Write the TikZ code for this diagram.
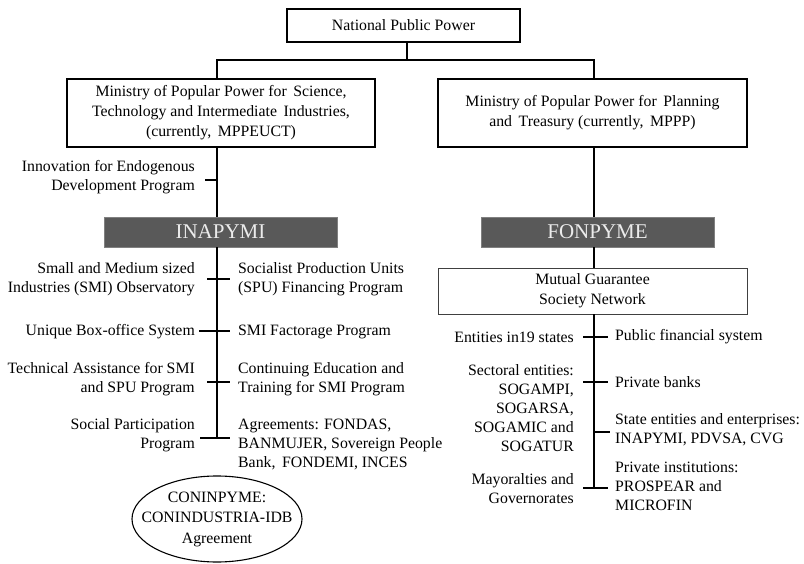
\documentclass[tikz,border=0pt]{standalone}
\usepackage{fontspec}
\setmainfont{Liberation Serif}
\usetikzlibrary{shapes.geometric}
\begin{document}
\begin{tikzpicture}[x=1pt,y=-1pt,
  txt/.style={font=\fontsize{15.8}{19}\selectfont, inner sep=0pt},
  box/.style={draw, line width=1.3pt, font=\fontsize{15.8}{20}\selectfont, align=center, inner sep=0pt},
  darkbox/.style={fill=black!65, draw=black!50, line width=0.6pt, text=white!92!black, font=\fontsize{21}{24}\selectfont, inner sep=0pt},
  ln/.style={line width=1.3pt}]
\useasboundingbox (0,0) rectangle (804,564);
\fill[white] (0,0) rectangle (804,564);

% boxes
\node[box, minimum width=233pt, minimum height=33pt] (top) at (403.5,25.5) {National Public Power};
\node[box, minimum width=308pt, minimum height=68pt] (minL) at (221,113) {Ministry of Popular Power for\, Science,\\Technology and Intermediate\, Industries,\\(currently,\, MPPEUCT)};
\node[box, minimum width=309pt, minimum height=68pt] (minR) at (592.5,113) {Ministry of Popular Power for\, Planning\\and\, Treasury (currently,\, MPPP)};
\node[darkbox, minimum width=233pt, minimum height=30pt] (inap) at (220.5,232) {INAPYMI};
\node[darkbox, minimum width=233pt, minimum height=30pt] (fonp) at (597.5,232) {FONPYME};
\node[box, draw=black!75, line width=0.8pt, minimum width=309pt, minimum height=46pt] (mut) at (592.5,291) {Mutual Guarantee\\Society Network};
\node[ellipse, draw, line width=1.1pt, minimum width=170pt, minimum height=86pt, inner sep=0pt] (con) at (217,519) {};
\node[txt, align=center, font=\fontsize{15.8}{20.5}\selectfont] (contxt) at (con.center) {CONINPYME:\\CONINDUSTRIA-IDB\\Agreement};

% spine coordinates
\coordinate (lsp) at (217,0);
\coordinate (rsp) at (594,0);
\coordinate (hy) at (0,60);
\coordinate (tx) at (407,0);

% top connectors
\draw[ln] (tx |- top.south) -- (tx |- hy);
\draw[ln] (lsp |- minL.north) -- (lsp |- hy) -- (rsp |- hy) -- (rsp |- minR.north);

% left spine
\coordinate (lt0) at (205,180);
\coordinate (la1) at (207,279);
\coordinate (lb1) at (230,279);
\coordinate (la2) at (199,331);
\coordinate (lb2) at (230,331);
\coordinate (la3) at (207,382);
\coordinate (lb3) at (230,382);
\coordinate (la4) at (200,438);
\coordinate (lb4) at (230,438);
\draw[ln] (lsp |- minL.south) -- (lsp |- inap.north);
\draw[ln] (lsp |- inap.south) -- (lsp |- la4);
\draw[ln] (lt0) -- (lsp |- lt0);
\draw[ln] (la1) -- (lb1);
\draw[ln] (la2) -- (lb2);
\draw[ln] (la3) -- (lb3);
\draw[ln] (la4) -- (lb4);

% left texts
\node[txt, anchor=east, align=right] (l0) at (195,177.5) {Innovation for Endogenous\\Development Program};
\node[txt, anchor=east, align=right] (l1) at (195,279.5) {Small and Medium sized\\Industries (SMI) Observatory};
\node[txt, anchor=east, align=right] (l2) at (195,332) {Unique Box-office System};
\node[txt, anchor=east, align=right] (l3) at (195,379) {Technical Assistance for SMI\\and SPU Program};
\node[txt, anchor=east, align=right] (l4) at (195,435) {Social Participation\\Program};
\node[txt, anchor=west, align=left] (r1) at (238,279.5) {Socialist Production Units\\(SPU) Financing Program};
\node[txt, anchor=west, align=left] (r2) at (238,332) {SMI Factorage Program};
\node[txt, anchor=west, align=left] (r3) at (238,379) {Continuing Education and\\Training for SMI Program};
\node[txt, anchor=west, align=left] (r4) at (238,444) {Agreements: FONDAS,\\BANMUJER, Sovereign People\\Bank,\, FONDEMI, INCES};

% right spine
\coordinate (ra1) at (583,337);
\coordinate (rb1) at (608,337);
\coordinate (ra2) at (583,382);
\coordinate (rb2) at (608,382);
\coordinate (rb3) at (610,432);
\coordinate (ra4) at (583,488);
\coordinate (rb4) at (608,488);
\draw[ln] (rsp |- minR.south) -- (rsp |- fonp.north);
\draw[ln] (rsp |- fonp.south) -- (rsp |- mut.north);
\draw[ln] (rsp |- mut.south) -- (rsp |- ra4);
\draw[ln] (ra1) -- (rb1);
\draw[ln] (ra2) -- (rb2);
\draw[ln] (rsp |- rb3) -- (rb3);
\draw[ln] (ra4) -- (rb4);

% right texts
\node[txt, anchor=east, align=right] (fl1) at (574,337) {Entities in19 states};
\node[txt, anchor=east, align=right] (fl2) at (574,408) {Sectoral entities:\\SOGAMPI,\\SOGARSA,\\SOGAMIC and\\SOGATUR};
\node[txt, anchor=east, align=right] (fl3) at (574,489) {Mayoralties and\\Governorates};
\node[txt, anchor=west, align=left] (fr1) at (615,337) {Public financial system};
\node[txt, anchor=west, align=left] (fr2) at (615,382) {Private banks};
\node[txt, anchor=west, align=left] (fr3) at (615,429.5) {State entities and enterprises:\\INAPYMI, PDVSA, CVG};
\node[txt, anchor=west, align=left] (fr4) at (615,486) {Private institutions:\\PROSPEAR and\\MICROFIN};
\end{tikzpicture}
\end{document}
